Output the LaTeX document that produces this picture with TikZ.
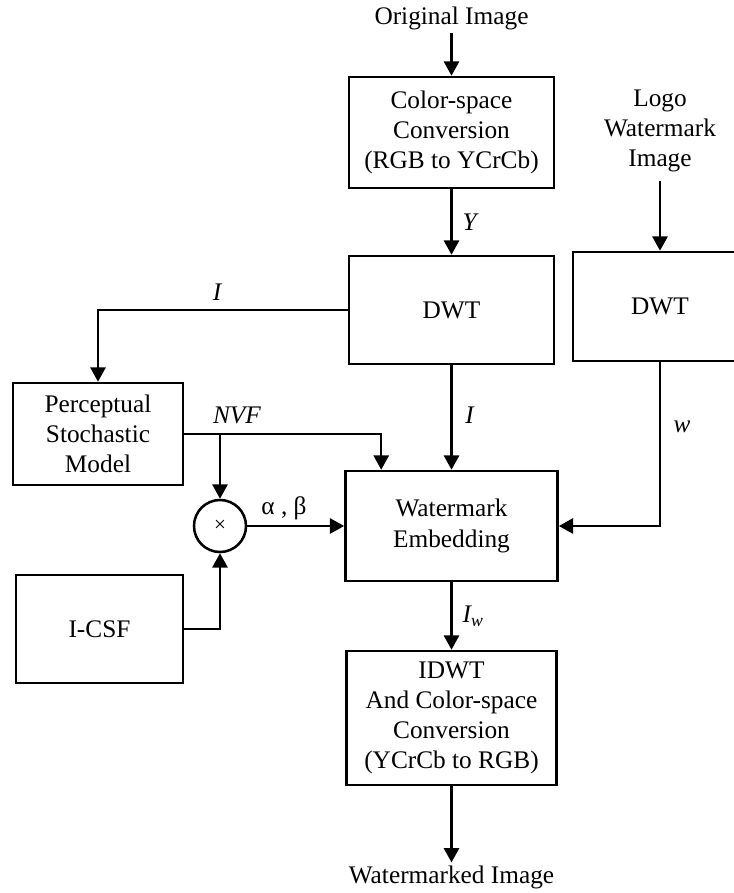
\documentclass[tikz,border=0pt]{standalone}
\usepackage{fontspec}
\setmainfont{Liberation Serif}
\usetikzlibrary{arrows.meta,positioning,calc}
\tikzstyle{block} = [rectangle, draw=black, line width=1.8pt, align=center, inner sep=0pt]
\tikzstyle{arrow} = [line width=1.8pt, -{Triangle[length=0.36cm, width=0.38cm]}]
\tikzstyle{sig} = [font=\fontsize{18}{21.5}\selectfont\itshape, inner sep=1pt]

\begin{document}
\begin{tikzpicture}[x=0.025cm, y=-0.025cm, font=\fontsize{18}{21.5}\selectfont]
\useasboundingbox (0,0) rectangle (734,893);
% host image path
\node[inner sep=2pt] (orig) at (451.5,18) {Original Image};
\node[block, minimum width=5.125cm, minimum height=2.775cm] (conv) at (451.5,132.5) {Color-space\\Conversion\\(RGB to YCrCb)};
\node[block, minimum width=5.125cm, minimum height=2.7cm] (dwt) at (451.5,310) {DWT};
\node[block, minimum width=5.3cm, minimum height=2.75cm] (embed) at (451.5,526) {Watermark\\Embedding};
\node[block, minimum width=5.25cm, minimum height=3.35cm] (idwt) at (451.5,718) {IDWT\\And Color-space\\Conversion\\(YCrCb to RGB)};
\node[inner sep=2pt] (wimg) at (451.5,877) {Watermarked Image};
% logo path
\node[align=center, inner sep=6pt] (logo) at (660,131) {Logo\\Watermark\\Image};
\node[block, minimum width=4.35cm, minimum height=2.725cm] (dwtw) at (660,306.5) {DWT};
% perceptual model
\node[block, minimum width=4.25cm, minimum height=2.55cm] (psm) at (98,434) {Perceptual\\Stochastic\\Model};
\node[block, minimum width=4.175cm, minimum height=2.7cm] (icsf) at (99.5,629) {I-CSF};
\node[circle, draw, line width=1.8pt, minimum size=1.3cm, inner sep=0pt, font=\fontsize{15}{17}\selectfont] (mult) at (220,526) {×};
\coordinate (nvfin) at ($(embed.north west)+(37,0)$);

\draw[arrow] (orig) -- (conv);
\draw[arrow] (conv) -- node[sig, right=6pt] (ly) {Y} (dwt);
\draw[arrow] (logo) -- (dwtw);
\draw[arrow] (dwt.west) -| (psm.north);
\node[sig] (li) at (217,292) {I};
\draw[arrow] (psm.east) -| (nvfin);
\node[sig] (lnvf) at (237,415) {NVF};
\draw[arrow] (psm.east -| mult.north) -- (mult.north);
\draw[arrow] (mult.east) -- (mult.east -| embed.west);
\node[inner sep=1pt] (lab) at (284,508) {α , β};
\draw[arrow] (icsf.east) -| (mult.south);
\draw[arrow] (dwt) -- node[sig, pos=0.48, right=8pt] (li2) {I} (embed);
\draw[arrow] (dwtw.south) |- (embed.east);
\node[sig] (lw) at (682,427) {w};
\draw[arrow] (embed) -- node[sig, right=6pt] (liw) {I\textsubscript{w}} (idwt);
\draw[arrow] (idwt) -- (wimg);
\end{tikzpicture}
\end{document}
